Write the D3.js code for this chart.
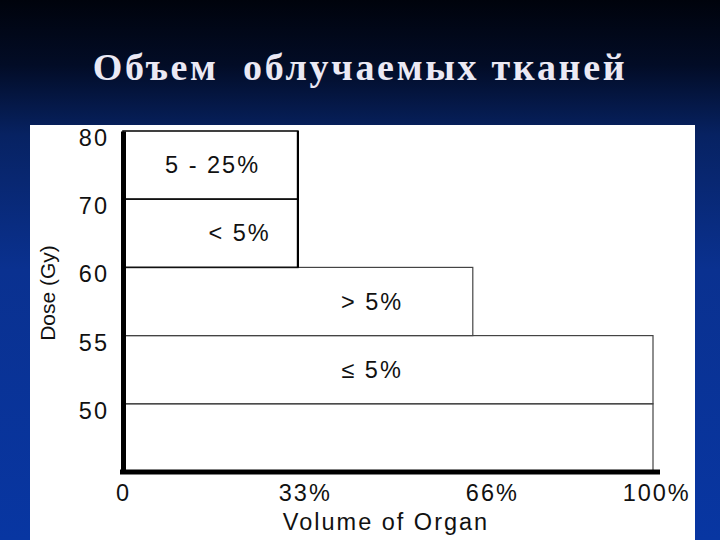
<!DOCTYPE html>
<html><head><meta charset="utf-8">
<script src="https://cdn.jsdelivr.net/npm/d3@7"></script>
<style>html,body{margin:0;padding:0;background:#000;}svg{display:block;}</style>
</head><body>
<script>
// ---- data ----
const title = "Объем  облучаемых тканей";
const doseLevels = ["", "50", "55", "60", "70", "80"];          // y categories, bottom to top
const bandLow    = ["", "50", "55", "60", "70"];                 // lower dose of each band
const bandHigh   = ["50", "55", "60", "70", "80"];               // upper dose of each band
const bandVolume = [100, 100, 66, 33, 33];                       // % volume limit
const bandLabels = ["", "\u2264 5%", "> 5%", "< 5%", "5 - 25%"];
const xTickLabels = ["0", "33%", "66%", "100%"];
const xTickValues = [0, 34.3, 69.6, 100.6];
const xTitle = "Volume of Organ";
const yTitle = "Dose (Gy)";

const W = 720, H = 540;
const svg = d3.select("body").append("svg").attr("width", W).attr("height", H);
const defs = svg.append("defs");
const g = defs.append("linearGradient").attr("id","bg").attr("x1",0).attr("y1",0).attr("x2",0).attr("y2",1);
g.append("stop").attr("offset","0").attr("stop-color","#00030c");
g.append("stop").attr("offset","0.12").attr("stop-color","#020c26");
g.append("stop").attr("offset","0.25").attr("stop-color","#072262");
g.append("stop").attr("offset","0.5").attr("stop-color","#0a3190");
g.append("stop").attr("offset","1").attr("stop-color","#0836a2");
svg.append("rect").attr("width",W).attr("height",H).attr("fill","url(#bg)");

svg.append("text").attr("x",360).attr("y",80).attr("text-anchor","middle")
  .attr("font-family","'Liberation Serif','Times New Roman',serif").attr("font-size",38)
  .attr("font-weight","bold").style("white-space","pre")
  .attr("fill","#ebe9f4").attr("letter-spacing",2.7).text(title);

// white panel
svg.append("rect").attr("x",30).attr("y",125).attr("width",665).attr("height",415).attr("fill","#ffffff");

const x = d3.scaleLinear().domain([0,100]).range([123,653]);
const y = d3.scalePoint().domain(doseLevels).range([472,131]);

const font = "'Liberation Sans',Arial,Helvetica,sans-serif";
const fs = 23.5, ls = 2;

// bands
const bands = bandLow.map((lo,i)=>({lo, hi:bandHigh[i], vol:bandVolume[i], label:bandLabels[i]}));
const gb = svg.append("g");
gb.selectAll("rect").data(bands).join("rect")
  .attr("x", x(0)).attr("y", d=>y(d.hi)).attr("width", d=>x(d.vol)-x(0))
  .attr("height", d=>y(d.lo)-y(d.hi))
  .attr("fill","none").attr("stroke", (d)=> d.vol===33 ? "#111" : "#444").attr("stroke-width", (d)=> d.vol===33 ? 1.6 : 1.2);
// stronger right edge for top boxes
gb.append("line").attr("x1",x(33)).attr("x2",x(33)).attr("y1",y("80")).attr("y2",y("60"))
  .attr("stroke","#000").attr("stroke-width",2.2);

const labelDx = [0, 0, 0, 0, -27];
gb.selectAll("text").data(bands).join("text")
  .attr("x", (d,i)=> i>=3 ? x(22)+labelDx[i] : x(47))
  .attr("y", d=> (y(d.lo)+y(d.hi))/2 + 8)
  .attr("text-anchor","middle").attr("font-family",font).attr("font-size",fs).attr("letter-spacing",ls).attr("fill","#111")
  .text(d=>d.label);

// axes
const yAxis = svg.append("g").attr("transform",`translate(${x(0)},0)`)
  .call(d3.axisLeft(y).tickSize(0).tickPadding(14));
yAxis.select(".domain").attr("stroke","#000").attr("stroke-width",5);
yAxis.selectAll("text").attr("font-family",font).attr("font-size",fs).attr("letter-spacing",ls).attr("fill","#111").attr("dy","0.62em");

const xAxis = svg.append("g").attr("transform",`translate(0,${y("")})`)
  .call(d3.axisBottom(x).tickValues(xTickValues).tickSize(0).tickPadding(12).tickFormat((d,i)=>xTickLabels[i]));
xAxis.select(".domain").attr("d",`M${x(0)-3},0H${x(100)+7}`).attr("stroke","#000").attr("stroke-width",5);
xAxis.selectAll("text").attr("font-family",font).attr("font-size",fs).attr("letter-spacing",ls).attr("fill","#111");

svg.append("text").attr("x",386).attr("y",530).attr("text-anchor","middle")
  .attr("font-family",font).attr("font-size",fs).attr("letter-spacing",ls).attr("fill","#111").text(xTitle);
svg.append("text").attr("transform","translate(55,293) rotate(-90)").attr("text-anchor","middle")
  .attr("font-family",font).attr("font-size",21).attr("fill","#111").text(yTitle);
</script>
</body></html>
